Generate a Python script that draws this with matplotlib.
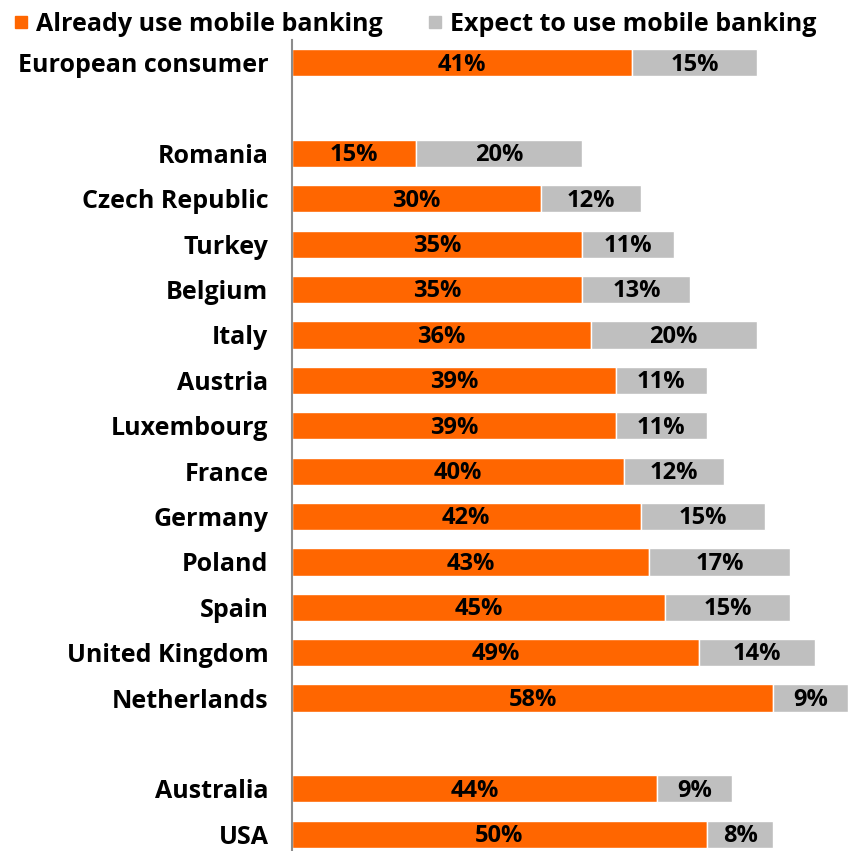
import matplotlib
matplotlib.use("Agg")
import matplotlib.pyplot as plt
from matplotlib.lines import Line2D

plt.rcParams['font.family'] = ['Open Sans', 'DejaVu Sans']
plt.rcParams['font.weight'] = 'bold'

countries = ["European consumer", "", "Romania", "Czech Republic", "Turkey", "Belgium",
             "Italy", "Austria", "Luxembourg", "France", "Germany", "Poland", "Spain",
             "United Kingdom", "Netherlands", "", "Australia", "USA"]
already = [41, None, 15, 30, 35, 35, 36, 39, 39, 40, 42, 43, 45, 49, 58, None, 44, 50]
expect = [15, None, 20, 12, 11, 13, 20, 11, 11, 12, 15, 17, 15, 14, 9, None, 9, 8]

ORANGE = "#FF6600"
GREY = "#BFBFBF"

W, H = 849, 851
fig = plt.figure(figsize=(W / 100, H / 100), dpi=100)
ax = fig.add_axes([292 / W, 0, (848 - 292) / W, (851 - 40) / H])

for i, (a, e) in enumerate(zip(already, expect)):
    if a is None:
        continue
    ax.barh(i, a, height=0.6, color=ORANGE, edgecolor="white", linewidth=1)
    ax.barh(i, e, left=a, height=0.6, color=GREY, edgecolor="white", linewidth=1)
    ax.text(a / 2, i + 0.04, f"{a}%", ha="center", va="center", fontsize=17,
            fontweight="bold", color="black")
    ax.text(a + e / 2, i + 0.04, f"{e}%", ha="center", va="center", fontsize=17,
            fontweight="bold", color="black")

ax.set_xlim(0, 67)
ax.set_ylim(17.37, -0.5)
ax.set_yticks(range(len(countries)))
ax.set_yticklabels(countries, fontsize=18, fontweight="bold")
ax.tick_params(axis="y", length=0, pad=17)
ax.set_xticks([])
for side in ("top", "right", "bottom"):
    ax.spines[side].set_visible(False)
ax.spines["left"].set_color("#8C8C8C")
ax.spines["left"].set_linewidth(1.5)

handles = [
    Line2D([], [], marker="s", linestyle="none", markersize=8, color=ORANGE),
    Line2D([], [], marker="s", linestyle="none", markersize=8, color=GREY),
]
fig.legend(handles, ["Already use mobile banking", "Expect to use mobile banking"],
           loc="upper left", bbox_to_anchor=(0.0, 1.004), ncol=2, frameon=False,
           prop={"size": 18, "weight": "bold"}, handlelength=0.5,
           handletextpad=0.35, columnspacing=1.85, borderaxespad=0.2)

fig.savefig("out.png", dpi=100)
